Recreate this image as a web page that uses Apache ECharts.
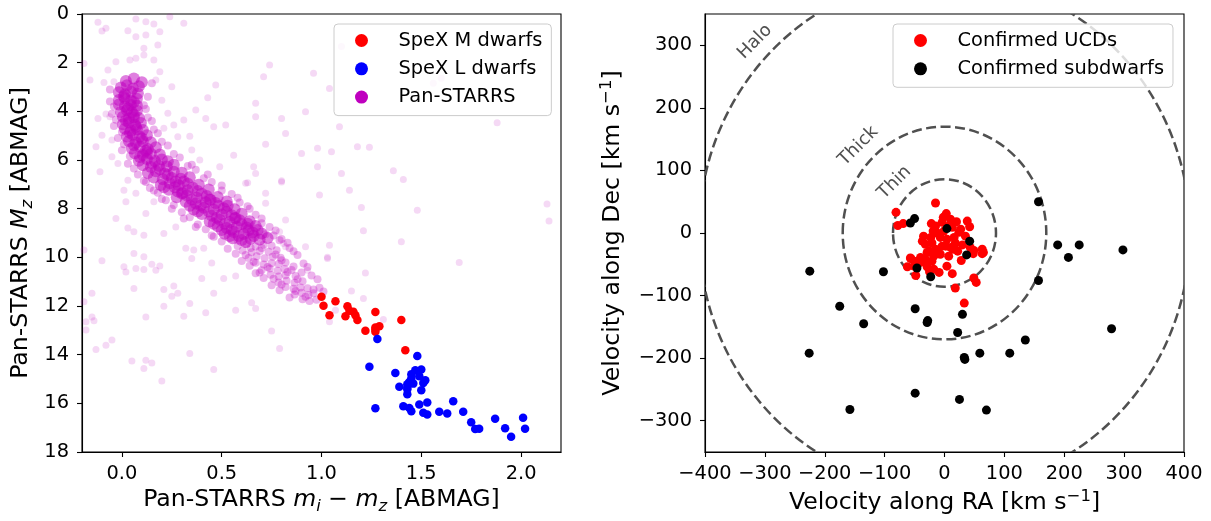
<!DOCTYPE html>
<html>
<head>
<meta charset="utf-8">
<script src="https://cdn.jsdelivr.net/npm/echarts@6/dist/echarts.min.js"></script>
<style>
html, body { margin: 0; padding: 0; background: #ffffff; }
#chart { width: 1211px; height: 521px; }
</style>
</head>
<body>
<div id="chart"></div>
<script>
// ---------- Left panel: colour-magnitude diagram (m_i - m_z, M_z) ----------

// SpeX M dwarfs
const mDwarfs = [
  [1.00, 11.62], [1.01, 11.99], [1.07, 11.80], [1.04, 12.38], [1.13, 12.01], [1.14, 12.20],
  [1.12, 12.42], [1.16, 12.24], [1.17, 12.38], [1.18, 12.58], [1.27, 12.25], [1.22, 13.02],
  [1.27, 12.97], [1.27, 12.88], [1.29, 12.83], [1.27, 13.06], [1.40, 12.58], [1.42, 13.82]
];

// SpeX L dwarfs
const lDwarfs = [
  [1.28, 13.36], [1.48, 14.05], [1.24, 14.50], [1.37, 14.75], [1.47, 14.64], [1.50, 14.61],
  [1.45, 14.80], [1.49, 14.89], [1.52, 15.05], [1.51, 15.16], [1.44, 15.12], [1.46, 15.19],
  [1.43, 15.22], [1.39, 15.32], [1.43, 15.35], [1.50, 15.46], [1.43, 15.63], [1.43, 15.42],
  [1.45, 14.98], [1.27, 16.20], [1.41, 16.12], [1.44, 16.19], [1.45, 16.33], [1.49, 16.05],
  [1.53, 15.97], [1.51, 16.39], [1.53, 16.46], [1.59, 16.35], [1.63, 16.42], [1.66, 15.91],
  [1.71, 16.35], [1.75, 16.78], [1.77, 17.05], [1.79, 17.04], [1.87, 16.63], [1.92, 17.02],
  [1.95, 17.37], [2.01, 16.59], [2.02, 17.04]
];

// Pan-STARRS field stars: dense main-sequence ridge
const panstarrsCore = [
  [-0.005, 3.02], [0.025, 2.93], [0.055, 3.06], [0.085, 2.97], [0.02, 2.75], [0.06, 2.65], [0.10, 2.80],
  [-0.015, 3.22], [0.015, 3.30], [0.045, 3.20], [0.08, 3.27],
  [-0.015, 3.53], [0.015, 3.46], [0.045, 3.55], [0.075, 3.48],
  [-0.015, 3.72], [0.015, 3.79], [0.045, 3.74], [0.075, 3.77],
  [-0.005, 4.03], [0.025, 3.96], [0.05, 4.04], [0.075, 3.98],
  [0.005, 4.22], [0.035, 4.29], [0.06, 4.24], [0.085, 4.27],
  [0.005, 4.53], [0.035, 4.46], [0.065, 4.55], [0.095, 4.48],
  [0.015, 4.72], [0.045, 4.79], [0.075, 4.74], [0.105, 4.77],
  [0.025, 5.03], [0.055, 4.96], [0.09, 5.04], [0.125, 4.98],
  [0.035, 5.22], [0.07, 5.29], [0.105, 5.24], [0.145, 5.27],
  [0.05, 5.53], [0.09, 5.46], [0.13, 5.55], [0.17, 5.48],
  [0.065, 5.72], [0.105, 5.79], [0.145, 5.74], [0.19, 5.77], [0.125, 5.70],
  [0.085, 6.03], [0.125, 5.96], [0.165, 6.04], [0.20, 5.98], [0.23, 6.05],
  [0.105, 6.22], [0.145, 6.29], [0.185, 6.24], [0.225, 6.27], [0.26, 6.20],
  [0.13, 6.53], [0.17, 6.46], [0.215, 6.55], [0.26, 6.48], [0.30, 6.52],
  [0.16, 6.72], [0.205, 6.79], [0.25, 6.74], [0.295, 6.77], [0.34, 6.71],
  [0.195, 7.03], [0.24, 6.96], [0.285, 7.04], [0.33, 6.98], [0.385, 7.02], [0.265, 7.12], [0.31, 6.88],
  [0.235, 7.22], [0.28, 7.29], [0.33, 7.24], [0.38, 7.27], [0.435, 7.21], [0.305, 7.36], [0.355, 7.14],
  [0.275, 7.53], [0.325, 7.46], [0.375, 7.55], [0.425, 7.48], [0.48, 7.52], [0.35, 7.62], [0.40, 7.39],
  [0.32, 7.72], [0.37, 7.79], [0.42, 7.74], [0.47, 7.77], [0.525, 7.71], [0.395, 7.87], [0.445, 7.64],
  [0.36, 8.03], [0.41, 7.96], [0.46, 8.04], [0.51, 7.98], [0.565, 8.02], [0.435, 8.12], [0.485, 7.89],
  [0.40, 8.22], [0.45, 8.29], [0.50, 8.24], [0.55, 8.27], [0.60, 8.21], [0.475, 8.37], [0.525, 8.14],
  [0.44, 8.53], [0.49, 8.46], [0.54, 8.55], [0.59, 8.48], [0.64, 8.52], [0.515, 8.62], [0.565, 8.39],
  [0.48, 8.72], [0.525, 8.79], [0.575, 8.74], [0.625, 8.77], [0.67, 8.71], [0.55, 8.87], [0.60, 8.64],
  [0.515, 9.03], [0.56, 8.96], [0.61, 9.04], [0.655, 8.98], [0.70, 9.02], [0.585, 9.12], [0.635, 8.89],
  [0.555, 9.22], [0.60, 9.29], [0.645, 9.24], [0.69, 9.27], [0.73, 9.21], [0.62, 9.37],
  [0.01, 3.38], [0.06, 3.62], [0.03, 3.88], [0.06, 4.14], [0.02, 4.38], [0.07, 4.62], [0.04, 4.88],
  [0.10, 5.12], [0.06, 5.38], [0.12, 5.62], [0.09, 5.88], [0.15, 6.12], [0.19, 6.38], [0.23, 6.62],
  [0.27, 6.88], [0.21, 7.12], [0.30, 7.38], [0.44, 7.62], [0.34, 7.88], [0.53, 7.88], [0.38, 8.12],
  [0.57, 8.38], [0.46, 8.62], [0.63, 8.62], [0.50, 8.88], [0.68, 8.88], [0.54, 9.12], [0.66, 9.12]
];

// Pan-STARRS field stars: edges of the ridge and its fainter lower end
const panstarrsFringe = [
  [0.58, 9.53], [0.625, 9.46], [0.67, 9.55], [0.71, 9.48], [0.75, 9.52], [0.645, 9.62],
  [0.605, 9.72], [0.65, 9.79], [0.69, 9.74], [0.735, 9.77], [0.775, 9.71],
  [0.635, 10.03], [0.675, 9.96], [0.715, 10.04], [0.755, 9.98], [0.795, 10.02],
  [0.67, 10.22], [0.71, 10.29], [0.75, 10.24], [0.785, 10.27], [0.82, 10.21],
  [0.70, 10.53], [0.74, 10.46], [0.78, 10.55], [0.815, 10.48], [0.85, 10.52],
  [0.745, 10.72], [0.785, 10.79], [0.82, 10.74], [0.87, 10.77],
  [0.785, 11.03], [0.825, 10.96], [0.865, 11.04], [0.905, 10.98],
  [0.82, 11.22], [0.86, 11.29], [0.895, 11.24], [0.93, 11.27],
  [0.865, 11.53], [0.90, 11.46], [0.935, 11.55], [0.96, 11.48],
  [0.905, 11.72], [0.94, 11.79], [0.975, 11.74],
  [0.62, 9.90], [0.70, 9.62], [0.77, 9.88], [0.66, 10.18], [0.73, 10.40], [0.80, 10.12],
  [0.69, 10.62], [0.76, 10.88], [0.83, 10.60], [0.88, 10.90], [0.80, 11.12], [0.87, 11.38],
  [0.92, 11.62], [0.96, 11.32], [0.58, 9.30], [0.72, 9.05], [0.79, 9.30], [0.84, 9.62],
  [0.86, 10.38], [0.90, 10.62],
  [0.12, 6.90], [0.16, 7.25], [0.20, 7.60], [0.25, 8.00], [0.31, 8.40], [0.37, 8.75], [0.45, 9.10],
  [0.35, 6.20], [0.43, 6.60], [0.50, 7.05], [0.58, 7.55], [0.64, 8.00], [0.70, 8.60], [0.76, 9.10],
  [-0.06, 3.10], [0.15, 2.85], [-0.06, 3.60], [0.13, 3.40], [-0.05, 4.10], [0.12, 3.90],
  [-0.04, 4.60], [0.15, 4.40], [-0.02, 5.10], [0.18, 4.90], [0.00, 5.60], [0.23, 5.40],
  [0.03, 6.15], [0.29, 5.90], [0.08, 6.60], [0.37, 6.40], [0.14, 7.15], [0.45, 6.90],
  [0.22, 7.65], [0.55, 7.40], [0.30, 8.15], [0.63, 7.90], [0.38, 8.65], [0.70, 8.40],
  [0.46, 9.15], [0.77, 8.90], [0.53, 9.65], [0.83, 9.40], [0.60, 10.15], [0.88, 9.90],
  [0.67, 10.65], [0.93, 10.40], [0.75, 11.15], [0.98, 10.90], [0.84, 11.65], [1.01, 11.40],
  [0.11, 3.75], [0.13, 4.25], [0.16, 4.75], [0.20, 5.25], [0.26, 5.75], [0.33, 6.25],
  [0.41, 6.75], [0.50, 7.25], [0.59, 7.75], [0.67, 8.25], [0.74, 8.75], [0.80, 9.25],
  [0.86, 9.75], [0.91, 10.25], [0.95, 10.75], [0.99, 11.25],
  [-0.04, 3.80], [-0.03, 4.35], [0.00, 4.85], [0.01, 5.35], [0.04, 5.85], [0.06, 6.35],
  [0.11, 6.85], [0.18, 7.35], [0.26, 7.85], [0.34, 8.35], [0.42, 8.85], [0.50, 9.35],
  [0.57, 9.85], [0.64, 10.35], [0.71, 10.85], [0.79, 11.35]
];

// Pan-STARRS field stars: scattered sources away from the ridge
const panstarrsSparse = [
  [-0.12, 0.34], [-0.08, 0.59], [-0.10, 0.70], [0.07, 0.21], [0.12, 0.32], [0.16, 0.41], [0.24, 0.11],
  [0.31, 0.38], [0.03, 0.69], [0.07, 0.93], [0.12, 0.86], [0.19, 0.73], [0.18, 1.27], [0.11, 1.41],
  [0.11, 1.69], [0.16, 1.89], [0.04, 1.89], [0.07, 1.82], [-0.03, 1.96], [-0.19, 2.03], [-0.16, 2.71],
  [-0.07, 2.30], [-0.09, 2.82], [-0.04, 2.78], [0.19, 2.37], [0.17, 2.71], [0.25, 2.99], [0.20, 3.54],
  [0.23, 4.08], [0.47, 2.92], [0.37, 3.95], [0.43, 3.44], [0.74, 2.10], [0.71, 2.58], [0.67, 3.67],
  [0.67, 4.22], [0.80, 4.29], [0.82, 4.91], [0.72, 5.35], [0.52, 4.56], [0.46, 4.63], [0.42, 4.29],
  [0.31, 4.36], [0.26, 4.56], [0.28, 5.04], [0.34, 5.02], [0.35, 5.59], [0.21, 4.70], [-0.08, 4.11],
  [-0.12, 4.29], [-0.06, 4.22], [-0.10, 4.98], [-0.05, 5.18], [-0.13, 5.46], [-0.05, 5.87],
  [-0.11, 6.48], [-0.02, 6.14], [0.03, 6.83], [0.02, 7.72], [0.01, 7.24], [0.07, 7.37], [0.16, 7.72],
  [0.12, 8.20], [-0.03, 8.40], [0.03, 8.79], [0.06, 8.95], [0.11, 9.09], [0.39, 6.00], [0.49, 6.28],
  [0.56, 5.80], [0.62, 6.96], [0.67, 6.55], [0.72, 7.37], [0.72, 7.78], [0.82, 8.47], [0.79, 8.95],
  [0.81, 9.43], [0.82, 9.57], [0.80, 6.90], [0.21, 9.02], [0.27, 8.75], [0.32, 9.63], [0.36, 9.70],
  [0.41, 9.63],
  [0.96, 2.44], [1.04, 3.06], [0.92, 4.02], [1.09, 4.63], [0.98, 5.52], [0.90, 5.73], [1.05, 5.66],
  [1.18, 5.46], [1.24, 5.48], [0.98, 6.28], [1.10, 6.55], [0.99, 7.44], [1.14, 7.24], [1.36, 6.44],
  [1.41, 6.80], [1.48, 8.06], [1.20, 7.95], [1.21, 8.91], [0.92, 9.57], [1.04, 9.50], [1.40, 9.36],
  [1.56, 2.85], [1.88, 4.47], [2.13, 7.81], [2.14, 8.51], [1.10, 1.34], [1.60, 2.64],
  [0.06, 9.84], [0.11, 9.98], [0.01, 10.39], [0.02, 10.60], [0.07, 10.46], [0.11, 10.50], [0.15, 10.28],
  [0.19, 10.36], [0.17, 10.53], [0.06, 11.28], [-0.10, 10.14], [-0.15, 11.48], [-0.19, 11.83],
  [-0.18, 12.65], [-0.15, 12.45], [-0.14, 12.61], [-0.18, 12.99], [-0.13, 13.79], [-0.08, 13.61],
  [-0.05, 13.40], [0.05, 14.26], [0.12, 14.23], [0.15, 14.34], [0.11, 14.57], [0.20, 15.08],
  [0.12, 12.45], [0.21, 11.32], [0.21, 12.01], [0.25, 11.60], [0.28, 11.48], [0.26, 11.18],
  [0.34, 11.90], [0.31, 12.42], [0.35, 10.05], [0.40, 10.87], [0.42, 12.28], [0.34, 13.95],
  [0.46, 14.61], [0.45, 10.23], [0.46, 11.48], [0.57, 12.17], [0.65, 11.87], [0.67, 12.10],
  [0.75, 13.03], [0.79, 13.75], [0.57, 10.77], [0.51, 10.87], [-0.19, 9.70],
  [1.03, 10.00], [1.22, 10.64], [1.15, 11.38], [1.04, 12.65], [1.31, 12.55], [1.69, 10.21],
  [1.07, 12.17], [1.21, 11.69], [1.03, 10.05], [0.93, 10.53], [0.63, 6.94], [0.80, 6.85], [0.66, 6.28]
];

const colourTicks = [0, 0.5, 1.0, 1.5, 2.0];

// ---------- Right panel: tangential velocities (RA, Dec) ----------

// Confirmed ultracool dwarfs
const ucdVel = [
  [-15, 48], [-81, 33], [-78, 12], [-69, 15], [3, 31], [-2, 25], [-22, 15], [-15, 11], [-19, 3],
  [20, 18], [13, 9], [27, 6], [42, 10], [24, 1], [-35, -5], [-37, -13], [-21, -16], [-7, -7],
  [4, -10], [-4, -21], [10, -23], [-15, -26], [43, -23], [49, -28], [63, -26], [65, -31],
  [-25, -29], [-40, -39], [-32, -42], [-21, -45], [-56, -41], [-62, -54], [-51, -53], [-40, -47],
  [-29, -54], [-18, -58], [-9, -63], [7, -37], [4, -53], [13, -65], [28, -44], [-48, -68],
  [-25, -62], [18, -88], [49, -72], [53, -79], [33, -112], [30, -19], [14, -26], [22, -29],
  [-12, 0], [-1, 3], [-23, -7], [16, -7], [35, -5], [-7, -34], [-18, -37], [-29, -31], [-4, 17],
  [10, 22], [38, 19], [7, 11], [18, -16], [2, -21], [-32, -18], [-46, -45], [48, -33], [63, -33],
  [-57, -40], [-36, -44]
];

// Confirmed subdwarfs
const subdwarfVel = [
  [-225, -61], [-102, -62], [-175, -117], [-135, -145], [-226, -192], [-158, -282], [-49, -121],
  [-28, -140], [-29, -143], [30, -130], [22, -159], [33, -199], [34, -202], [59, -192], [109, -192],
  [135, -171], [157, -76], [207, -39], [298, -27], [279, -153], [-49, -256], [25, -266], [70, -283],
  [-46, -56], [-23, -70], [37, -35], [157, 50], [189, -19], [225, -19], [-50, 23], [-57, 16],
  [4, 7], [42, -13]
];

// Characteristic velocity radii of the Galactic populations
const zoneNames = ['Thin', 'Thick', 'Halo'];
const zoneRadii = [86, 170, 410];

const velTicksDec = [-300, -200, -100, 0, 100, 200, 300];

// ---------- chart ----------
const FONT = 'DejaVu Sans';
const INK = '#000000';
const ZONE_INK = '#505050';
const TICK_SIZE = 19.4;
const NAME_SIZE = 23.6;
const SCRIPT_SIZE = 16.5;

const minusFmt = v => (v < 0 ? '\u2212' + Math.abs(v) : String(v));

const nameRich = {
  t:   { fontFamily: FONT, fontSize: NAME_SIZE, lineHeight: 30, color: INK },
  i:   { fontFamily: FONT, fontSize: NAME_SIZE, lineHeight: 30, fontStyle: 'italic', color: INK },
  sub: { fontFamily: FONT, fontSize: SCRIPT_SIZE, lineHeight: 16, fontStyle: 'italic', verticalAlign: 'bottom', color: INK },
  sup: { fontFamily: FONT, fontSize: SCRIPT_SIZE, lineHeight: 16, verticalAlign: 'top', color: INK }
};

const tickLine = { color: INK, width: 1.1 };

function axisBase(extra) {
  return Object.assign({
    type: 'value',
    axisLine: { show: true, onZero: false, lineStyle: { color: INK, width: 1.1 } },
    axisTick: { show: true, inside: false, length: 5, lineStyle: tickLine },
    axisLabel: { color: INK, fontFamily: FONT, fontSize: TICK_SIZE, margin: 12 },
    splitLine: { show: false },
    nameLocation: 'middle',
    nameTextStyle: { rich: nameRich }
  }, extra);
}

function legendBox(left, names) {
  return {
    left: left, top: 24, orient: 'vertical',
    data: names,
    icon: 'circle', itemWidth: 26, itemHeight: 13, itemGap: 9.3,
    padding: [7, 9, 9, 21],
    borderColor: '#cccccc', borderWidth: 1, borderRadius: 4,
    backgroundColor: 'rgba(255,255,255,0.8)',
    selectedMode: false,
    formatter: n => '{p|' + n + '}',
    textStyle: { rich: { p: { fontFamily: FONT, fontSize: TICK_SIZE, lineHeight: 19.4, color: INK, padding: [0, 0, 0, 19] } } }
  };
}

const ZONE_LABEL_ANGLE = 136 * Math.PI / 180;
const ZONE_LABEL_GAP = 30;

const option = {
  animation: false,
  backgroundColor: '#ffffff',
  textStyle: { fontFamily: FONT },
  grid: [
    { left: 82, top: 14, width: 479, height: 438, show: true, borderColor: INK, borderWidth: 1.1, backgroundColor: 'transparent' },
    { left: 705, top: 14, width: 479, height: 438, show: true, borderColor: INK, borderWidth: 1.1, backgroundColor: 'transparent' }
  ],
  xAxis: [
    axisBase({
      gridIndex: 0, min: -0.2, max: 2.2,
      axisTick: { show: true, length: 5, lineStyle: tickLine, customValues: colourTicks },
      axisLabel: { color: INK, fontFamily: FONT, fontSize: TICK_SIZE, margin: 12, customValues: colourTicks, formatter: v => v.toFixed(1) },
      name: '{t|Pan-STARRS }{i|m}{sub|i}{t| \u2212 }{i|m}{sub|z}{t| [ABMAG]}',
      nameGap: 33
    }),
    axisBase({
      gridIndex: 1, min: -400, max: 400, interval: 100,
      axisLabel: { color: INK, fontFamily: FONT, fontSize: TICK_SIZE, margin: 12, formatter: minusFmt },
      name: '{t|Velocity along RA [km s}{sup|\u22121}{t|]}',
      nameGap: 35
    })
  ],
  yAxis: [
    axisBase({
      gridIndex: 0, min: 0, max: 18, interval: 2, inverse: true,
      axisLabel: { color: INK, fontFamily: FONT, fontSize: TICK_SIZE, margin: 13 },
      name: '{t|Pan-STARRS }{i|M}{sub|z}{t| [ABMAG]}',
      nameGap: 46
    }),
    axisBase({
      gridIndex: 1, min: -350, max: 350,
      axisTick: { show: true, length: 5, lineStyle: tickLine, customValues: velTicksDec },
      axisLabel: { color: INK, fontFamily: FONT, fontSize: TICK_SIZE, margin: 13, customValues: velTicksDec, formatter: minusFmt },
      name: '{t|Velocity along Dec [km s}{sup|\u22121}{t|]}',
      nameGap: 77
    })
  ],
  legend: [
    legendBox(334, [
      { name: 'SpeX M dwarfs' },
      { name: 'SpeX L dwarfs' },
      { name: 'Pan-STARRS', itemStyle: { color: '#bf00bf', opacity: 1 } }
    ]),
    legendBox(893, [
      { name: 'Confirmed UCDs' },
      { name: 'Confirmed subdwarfs' }
    ])
  ],
  series: [
    {
      name: 'Pan-STARRS', type: 'scatter', xAxisIndex: 0, yAxisIndex: 0,
      data: panstarrsSparse, symbolSize: 7, silent: true,
      itemStyle: { color: 'rgba(191,0,191,0.15)', opacity: 1 }
    },
    {
      name: 'Pan-STARRS', type: 'scatter', xAxisIndex: 0, yAxisIndex: 0,
      data: panstarrsFringe, symbolSize: 8, silent: true,
      itemStyle: { color: 'rgba(191,0,191,0.3)', opacity: 1 }
    },
    {
      name: 'Pan-STARRS', type: 'scatter', xAxisIndex: 0, yAxisIndex: 0,
      data: panstarrsCore, symbolSize: 12, silent: true,
      itemStyle: { color: 'rgba(191,0,191,0.5)', opacity: 1 }
    },
    {
      name: 'SpeX M dwarfs', type: 'scatter', xAxisIndex: 0, yAxisIndex: 0,
      data: mDwarfs, symbolSize: 8.5, silent: true, itemStyle: { color: '#ff0000', opacity: 1 }
    },
    {
      name: 'SpeX L dwarfs', type: 'scatter', xAxisIndex: 0, yAxisIndex: 0,
      data: lDwarfs, symbolSize: 8.5, silent: true, itemStyle: { color: '#0000ff', opacity: 1 }
    },
    {
      name: 'zones', type: 'custom', xAxisIndex: 1, yAxisIndex: 1,
      coordinateSystem: 'cartesian2d', silent: true, clip: true,
      data: zoneRadii.map(r => [r, 0]),
      renderItem: function (params, api) {
        const r = api.value(0);
        const c = api.coord([0, 0]);
        const s = api.size([r, r]);
        const lr = r + ZONE_LABEL_GAP;
        const lp = api.coord([lr * Math.cos(ZONE_LABEL_ANGLE), lr * Math.sin(ZONE_LABEL_ANGLE)]);
        return {
          type: 'group',
          children: [
            {
              type: 'ellipse',
              shape: { cx: c[0], cy: c[1], rx: s[0], ry: s[1] },
              style: { fill: 'none', stroke: ZONE_INK, lineWidth: 2.5, lineDash: [10, 4.5] }
            },
            {
              type: 'text', x: lp[0], y: lp[1], rotation: Math.PI / 4,
              style: {
                text: zoneNames[params.dataIndex], fill: ZONE_INK,
                font: '18px "' + FONT + '"', align: 'center', verticalAlign: 'middle'
              }
            }
          ]
        };
      }
    },
    {
      name: 'Confirmed UCDs', type: 'scatter', xAxisIndex: 1, yAxisIndex: 1,
      data: ucdVel, symbolSize: 9, silent: true, itemStyle: { color: '#ff0000', opacity: 1 }
    },
    {
      name: 'Confirmed subdwarfs', type: 'scatter', xAxisIndex: 1, yAxisIndex: 1,
      data: subdwarfVel, symbolSize: 9, silent: true, itemStyle: { color: '#000000', opacity: 1 }
    }
  ]
};

const chart = echarts.init(document.getElementById('chart'), null, { renderer: 'canvas' });
chart.setOption(option);
</script>
</body>
</html>
